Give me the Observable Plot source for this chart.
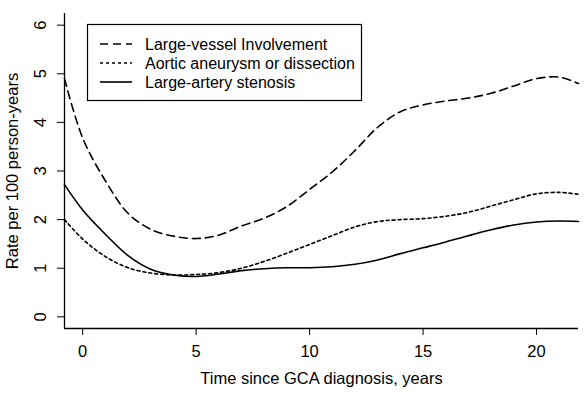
<!DOCTYPE html>
<html>
<head>
<meta charset="utf-8">
<script src="https://cdn.jsdelivr.net/npm/d3@7"></script>
<script src="https://cdn.jsdelivr.net/npm/@observablehq/plot@0.6"></script>
<style>
  html, body { margin: 0; padding: 0; background: #fff; }
  #chart { width: 586px; height: 393px; }
</style>
</head>
<body>
<div id="chart"></div>
<script>
// Time since diagnosis (years)
const years = [-0.8, 0, 1, 2, 3, 4, 5, 6, 7, 8, 9, 10, 11, 12, 13, 14, 15, 16, 17, 18, 19, 20, 21, 21.85];
// Rate per 100 person-years
const largeVessel = [4.9, 3.68, 2.8, 2.13, 1.8, 1.66, 1.61, 1.68, 1.87, 2.03, 2.27, 2.62, 2.98, 3.42, 3.9, 4.22, 4.36, 4.44, 4.5, 4.6, 4.75, 4.9, 4.93, 4.8];
const aorticAneurysm = [2.0, 1.6, 1.24, 1.01, 0.9, 0.86, 0.87, 0.91, 1.0, 1.14, 1.31, 1.49, 1.67, 1.85, 1.96, 2.0, 2.02, 2.07, 2.15, 2.28, 2.41, 2.53, 2.56, 2.52];
const arteryStenosis = [2.72, 2.2, 1.7, 1.26, 0.98, 0.86, 0.83, 0.88, 0.95, 0.99, 1.01, 1.01, 1.03, 1.08, 1.17, 1.3, 1.42, 1.54, 1.67, 1.79, 1.89, 1.95, 1.97, 1.96];

const seriesNames = ["Large-vessel Involvement", "Aortic aneurysm or dissection", "Large-artery stenosis"];
const seriesDash = ["8,5", "3,3", "none"];
const xTicks = [0, 5, 10, 15, 20];
const yTicks = [0, 1, 2, 3, 4, 5, 6];
const xDomain = [-0.8, 21.85];
const yDomain = [-0.24, 6.24];

const toRows = vals => years.map((t, i) => ({t, v: vals[i]}));
const seriesData = [largeVessel, aorticAneurysm, arteryStenosis].map(toRows);

const font = "Liberation Sans, Arial, Helvetica, sans-serif";
const fs = 16.5;

const plot = Plot.plot({
  width: 586,
  height: 393,
  marginLeft: 64,
  marginRight: 8,
  marginTop: 13,
  marginBottom: 65,
  style: {fontFamily: font, fontSize: fs + "px", background: "#fff", color: "#000"},
  x: {domain: xDomain},
  y: {domain: yDomain},
  marks: [
    Plot.axisX(xTicks, {tickSize: 7, tickPadding: 10, fontSize: fs, label: null, strokeWidth: 1}),
    Plot.axisY(yTicks, {tickSize: 7, tickPadding: 12, tickRotate: -90, fontSize: fs, label: null, strokeWidth: 1}),
    Plot.ruleX([xDomain[0]], {y1: yDomain[0], y2: yDomain[1], stroke: "#000", strokeWidth: 1.3}),
    Plot.ruleY([yDomain[0]], {x1: xDomain[0], x2: xDomain[1], stroke: "#000", strokeWidth: 1.3}),
    ...seriesData.map((rows, i) => Plot.line(rows, {
      x: "t", y: "v", curve: "catmull-rom",
      stroke: "#000", strokeWidth: 1.6,
      strokeDasharray: seriesDash[i] === "none" ? undefined : seriesDash[i]
    })),
    Plot.text(["Rate per 100 person-years"], {frameAnchor: "left", textAnchor: "middle", lineAnchor: "middle", rotate: -90, dx: -52, fontSize: fs, fill: "#000"}),
    Plot.text(["Time since GCA diagnosis, years"], {frameAnchor: "bottom", textAnchor: "middle", dy: 55, fontSize: fs, fill: "#000"})
  ]
});

document.getElementById("chart").appendChild(plot);

// Legend (box in upper left of plot area)
const svg = d3.select(plot);
const lg = svg.append("g").attr("font-family", font).attr("font-size", 16).attr("text-anchor", "start");
lg.append("rect").attr("x", 87.5).attr("y", 24.5).attr("width", 274).attr("height", 76)
  .attr("fill", "#fff").attr("stroke", "#000").attr("stroke-width", 1.2);
seriesNames.forEach((name, i) => {
  const cy = 44 + i * 19;
  lg.append("line").attr("x1", 100).attr("x2", 132).attr("y1", cy).attr("y2", cy)
    .attr("stroke", "#000").attr("stroke-width", 1.6)
    .attr("stroke-dasharray", seriesDash[i]);
  lg.append("text").attr("x", 145).attr("y", cy).attr("dy", "0.35em").attr("fill", "#000")
    .attr("text-anchor", "start").text(name);
});
</script>
</body>
</html>
